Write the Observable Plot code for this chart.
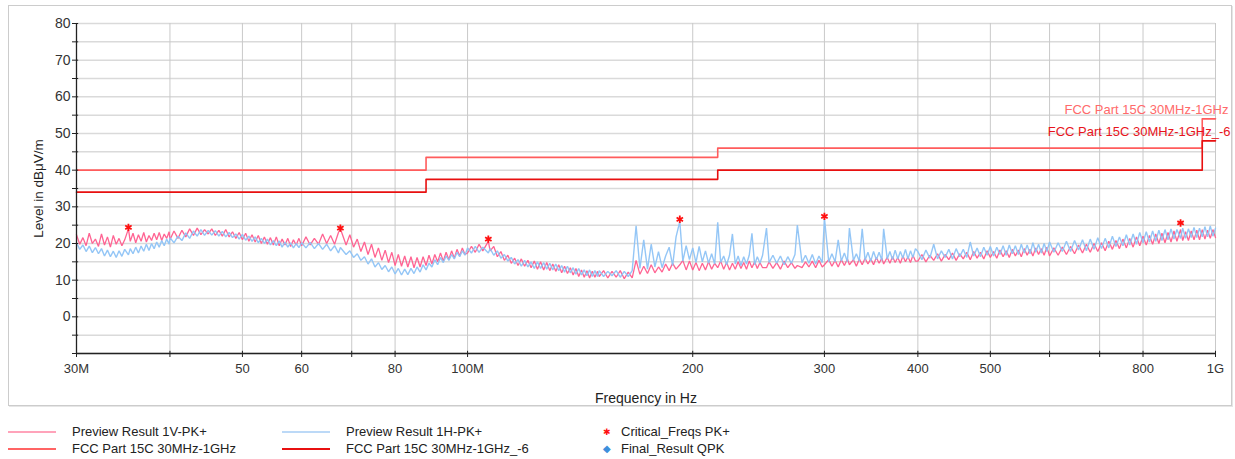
<!DOCTYPE html>
<html>
<head>
<meta charset="utf-8">
<script src="https://cdn.jsdelivr.net/npm/d3@7"></script>
<script src="https://cdn.jsdelivr.net/npm/@observablehq/plot@0.6"></script>
<style>
  html, body { margin: 0; padding: 0; background: #fff; }
  body { font-family: "Liberation Sans", Arial, sans-serif; }
  #wrap { position: relative; width: 1235px; height: 459px; overflow: hidden; }
  #frame { position: absolute; left: 8px; top: 5px; width: 1222px; height: 399px; border: 1px solid #cccccc; box-shadow: 1px 1px 0 #e6e6e6; }
  #chart { position: absolute; left: 0; top: 0; }
  .lg { position: absolute; font-size: 13px; color: #222; white-space: nowrap; line-height: 16px; }
  .sw { position: absolute; height: 2px; width: 48px; }
  .sym { position: absolute; line-height: 10px; }
</style>
</head>
<body>
<div id="wrap">
  <div id="frame"></div>
  <div id="chart"></div>
  <div class="sw" style="left:8px;top:431px;background:#ffa3ba"></div>
  <div class="lg" style="left:72px;top:424px">Preview Result 1V-PK+</div>
  <div class="sw" style="left:8px;top:448px;background:#ff6464"></div>
  <div class="lg" style="left:72px;top:441px">FCC Part 15C 30MHz-1GHz</div>
  <div class="sw" style="left:282px;top:431px;background:#bcd9f7"></div>
  <div class="lg" style="left:346px;top:424px">Preview Result 1H-PK+</div>
  <div class="sw" style="left:282px;top:448px;background:#e81010"></div>
  <div class="lg" style="left:346px;top:441px">FCC Part 15C 30MHz-1GHz_-6</div>
  <div class="sym" style="left:603px;top:427px;color:#ff1010;font-size:9px">✱</div>
  <div class="lg" style="left:621px;top:424px">Critical_Freqs PK+</div>
  <div class="sym" style="left:603px;top:444px;color:#3d8fdc;font-size:10px">◆</div>
  <div class="lg" style="left:621px;top:441px">Final_Result QPK</div>
</div>
<script>
// ---- data: frequency in MHz, level in dBµV/m ----
const freqMHz = [
30.0, 30.3, 30.6, 30.9, 31.2, 31.5, 31.8, 32.1, 32.4, 32.7,
33.0, 33.3, 33.6, 33.9, 34.2, 34.5, 34.8, 35.2, 35.4, 35.7,
36.0, 36.3, 36.6, 36.9, 37.2, 37.5, 37.8, 38.1, 38.4, 38.7,
39.0, 39.3, 39.6, 39.9,
40.0, 40.5, 41.0, 41.5, 42.0, 42.5, 43.0, 43.5, 44.0, 44.5,
45.0, 45.5, 46.0, 46.5, 47.0, 47.5, 48.0, 48.5, 49.0, 49.5,
50.0, 50.5, 51.0, 51.5, 52.0, 52.5, 53.0, 53.5, 54.0, 54.5,
55.0, 55.5, 56.0, 56.5, 57.0, 57.5, 58.0, 58.5, 59.0, 59.5,
60.0, 60.8, 61.6, 62.4, 63.2, 64.0, 64.8, 65.6, 66.4, 67.2,
67.6, 68.8, 69.6, 70.4, 71.2, 72.0, 72.8, 73.6, 74.4, 75.2,
76.0, 76.8, 77.6, 78.4, 79.2, 80.0, 80.8, 81.6, 82.4, 83.2,
84.0, 84.8, 85.6, 86.4, 87.2, 88.0, 88.8, 89.6, 90.4, 91.2,
92.0, 92.8, 93.6, 94.4, 95.2, 96.0, 96.8, 97.6, 98.4, 99.2,
100.0, 101.2, 102.4, 103.6, 104.8, 106.6, 107.2, 108.4, 109.6, 110.8,
112.0, 113.2, 114.4, 115.6, 116.8, 118.0, 119.2, 120.4, 121.6, 122.8,
124.0, 125.2, 126.4, 127.6, 128.8, 130.0, 131.2, 132.4, 133.6, 134.8,
136.0, 137.2, 138.4, 139.6, 140.8, 142.0, 143.2, 144.4, 145.6, 146.8,
148.0, 149.2,
150, 152, 154, 156, 158, 160, 162, 164, 166, 168,
170, 172, 174, 176, 178, 180, 182, 184, 186, 188,
190, 192.2, 194, 196, 198, 200, 202, 204, 206, 208,
210, 212, 214, 216, 218, 220, 222, 224, 226, 228,
230, 232, 234, 236, 238, 240, 242, 244, 246, 248,
251, 253, 256, 259, 262, 265, 268, 271, 274, 276,
280, 283, 286, 289, 292, 295, 298, 300, 304, 307,
310, 313, 316, 319, 322, 324, 328, 331, 334, 337,
340, 343, 346, 349, 352, 355, 358, 360, 364, 367,
370, 373, 376, 379, 382, 385, 388, 391, 394, 397,
400, 405, 410, 415, 420, 425, 430, 435, 440, 445,
450, 455, 460, 465, 470, 475, 480, 485, 490, 495,
500, 505, 510, 515, 520, 525, 530, 535, 540, 545,
550, 555, 560, 565, 570, 575, 580, 585, 590, 595,
600, 608, 616, 624, 632, 640, 648, 656, 664, 672,
680, 688, 696, 704, 712, 720, 728, 736, 744, 752,
760, 768, 776, 784, 792, 800, 808, 816, 824, 832,
840, 848, 856, 864, 872, 880, 888, 898, 904, 912,
920, 928, 936, 944, 952, 960, 968, 976, 984, 992, 1000
];
const preview1V = [
22.4, 19.8, 21.6, 19.4, 22.8, 20.0, 21.2, 19.2, 22.6, 19.6,
21.8, 19.0, 22.2, 19.8, 21.4, 19.4, 21.0, 24.0, 20.6, 22.8,
20.2, 22.4, 20.6, 23.0, 20.4, 22.2, 20.8, 22.8, 21.0, 23.0,
20.8, 22.6, 21.4, 23.2,
21.0, 23.4, 21.4, 23.6, 21.8, 24.0, 22.2, 24.2, 22.4, 23.8,
22.6, 24.0, 22.2, 23.6, 22.0, 23.8, 21.8, 23.2, 21.4, 23.0,
21.0, 22.8, 20.6, 22.4, 20.4, 22.2, 20.0, 21.8, 19.8, 21.6,
19.6, 21.8, 19.4, 21.2, 19.6, 21.4, 19.2, 21.0, 19.6, 21.4,
19.4, 21.8, 19.6, 21.4, 19.8, 22.6, 20.0, 22.2, 19.8, 23.0,
24.0, 19.6, 22.4, 19.0, 21.2, 17.8, 20.4, 17.0, 19.8, 16.2,
18.8, 15.4, 18.2, 14.8, 17.6, 14.0, 17.0, 13.8, 16.6, 13.6,
16.4, 13.4, 16.2, 13.6, 16.4, 14.0, 16.8, 14.4, 17.0, 15.0,
17.4, 15.2, 17.6, 15.6, 18.0, 16.0, 18.4, 16.6, 18.8, 17.0,
17.4, 19.2, 17.6, 19.8, 18.0, 20.6, 18.0, 19.2, 16.4, 17.8,
15.4, 16.8, 14.6, 16.0, 14.0, 15.8, 13.8, 15.4, 13.4, 15.2,
13.0, 15.0, 12.8, 14.8, 12.6, 14.4, 12.4, 14.2, 12.0, 13.8,
11.8, 13.4, 11.4, 13.2, 11.0, 12.8, 10.8, 12.6, 10.6, 12.4,
10.8, 12.4,
11.0, 12.6, 10.6, 12.4, 10.8, 12.6, 10.4, 12.2, 10.6, 15.4,
11.6, 13.8, 11.8, 14.2, 12.0, 13.6, 12.2, 14.4, 12.6, 14.6,
13.0, 14.2, 15.4, 12.8, 15.2, 12.8, 14.8, 12.6, 14.6, 12.8,
15.0, 13.0, 14.6, 13.4, 15.2, 13.0, 14.8, 12.8, 14.6, 13.0,
15.0, 13.2, 14.8, 13.0, 15.2, 13.4, 15.0, 13.2, 14.8, 13.4,
13.4, 15.0, 13.2, 14.8, 13.0, 15.2, 13.4, 14.8, 13.2, 14.0,
13.4, 15.0, 13.6, 15.2, 13.4, 15.4, 13.6, 14.2, 15.6, 13.8,
15.4, 13.6, 15.6, 14.0, 15.8, 14.2, 15.6, 13.8, 15.8, 14.2,
16.0, 14.4, 15.8, 14.2, 16.2, 14.6, 16.0, 14.4, 16.2, 14.6,
16.4, 14.8, 16.2, 14.6, 16.6, 15.0, 16.4, 14.8, 16.8, 15.2,
15.2, 17.0, 15.0, 16.8, 15.4, 17.2, 15.2, 17.0, 15.6, 17.4,
15.4, 17.2, 15.8, 17.6, 15.6, 17.8, 16.0, 17.6, 15.8, 18.0,
16.2, 17.8, 16.0, 18.2, 16.4, 18.0, 16.2, 18.4, 16.6, 18.2,
16.4, 18.6, 16.8, 18.4, 16.6, 18.8, 17.0, 18.6, 16.8, 19.0,
16.6, 18.8, 16.8, 19.0, 17.0, 19.2, 17.2, 19.6, 17.4, 19.8,
17.6, 20.0, 17.8, 20.2, 18.0, 20.6, 18.4, 20.8, 18.6, 21.2,
18.8, 21.4, 19.0, 21.8, 19.4, 22.0, 19.6, 22.2, 19.8, 22.6,
20.0, 22.8, 20.2, 23.0, 20.4, 23.4, 20.6, 23.8, 20.8, 23.2,
20.8, 23.4, 21.0, 23.6, 21.0, 23.8, 21.2, 23.6, 21.4, 23.8, 21.6
];
const preview1H = [
20.2, 18.4, 19.6, 17.8, 19.3, 17.5, 18.9, 17.2, 18.6, 16.6,
18.2, 16.4, 17.9, 16.2, 18.0, 16.5, 18.4, 16.9, 18.6, 17.2,
19.0, 17.4, 19.3, 17.9, 19.8, 18.1, 20.0, 18.6, 20.4, 19.0,
20.8, 19.4, 21.2, 19.8,
21.6, 20.2, 22.0, 20.8, 22.9, 21.4, 23.4, 22.0, 23.8, 22.2,
23.6, 22.3, 23.5, 22.0, 23.3, 21.8, 23.0, 21.6, 22.6, 21.2,
22.5, 20.9, 22.0, 20.6, 21.8, 20.2, 21.4, 20.0, 21.2, 19.6,
20.8, 19.4, 20.7, 19.0, 20.4, 19.0, 20.2, 18.8, 20.0, 18.9,
20.2, 18.8, 20.3, 18.6, 20.0, 18.4, 19.8, 18.0, 19.4, 17.4,
18.9, 17.0, 18.0, 16.2, 17.2, 15.4, 16.4, 14.4, 15.8, 13.6,
14.8, 12.9, 14.0, 12.3, 13.6, 11.7, 13.2, 11.4, 13.0, 11.5,
13.2, 11.8, 13.6, 12.2, 14.2, 12.8, 14.6, 13.6, 15.6, 14.2,
16.2, 14.8, 16.6, 15.4, 17.0, 15.8, 17.6, 16.4, 18.0, 16.8,
18.8, 17.4, 19.2, 17.6, 19.0, 17.4, 18.6, 16.8, 18.0, 16.0,
17.0, 15.2, 16.2, 14.4, 15.6, 13.8, 15.4, 13.6, 15.0, 13.2,
15.0, 13.2, 14.8, 13.0, 14.6, 12.8, 14.4, 12.6, 14.0, 12.2,
13.8, 12.0, 13.4, 11.6, 13.2, 11.4, 12.8, 11.2, 12.8, 11.0,
12.6, 11.0,
12.6, 11.0, 12.4, 11.2, 12.6, 10.8, 12.4, 11.0, 12.6, 24.8,
13.2, 21.0, 13.0, 19.8, 13.6, 17.8, 13.4, 16.6, 19.0, 14.0,
21.8, 26.0, 15.2, 19.4, 15.6, 18.8, 14.8, 19.2, 15.0, 18.0,
14.6, 17.2, 14.4, 25.8, 14.8, 16.6, 14.2, 16.8, 22.6, 14.4,
16.6, 14.0, 16.4, 14.4, 16.8, 22.8, 14.2, 16.4, 14.6, 16.8,
24.2, 14.8, 16.8, 14.6, 16.6, 14.2, 16.4, 14.6, 17.0, 25.0,
14.8, 16.8, 14.6, 17.0, 14.4, 16.6, 14.8, 27.0, 15.0, 17.2,
15.0, 21.0, 15.2, 17.4, 15.0, 24.2, 15.4, 17.2, 15.2, 24.0,
15.4, 17.6, 15.2, 17.8, 15.6, 17.6, 15.4, 24.0, 15.8, 17.8,
15.6, 18.2, 15.8, 17.8, 16.0, 18.4, 15.8, 18.0, 16.2, 18.6,
17.8, 15.6, 18.2, 16.0, 19.8, 15.8, 18.0, 16.2, 18.4, 15.8,
18.6, 16.4, 18.4, 16.2, 20.4, 16.6, 18.8, 16.4, 19.0, 16.8,
19.2, 16.6, 19.0, 17.0, 19.4, 16.8, 19.6, 17.2, 19.4, 17.0,
19.8, 17.4, 19.6, 17.2, 20.2, 17.6, 19.8, 17.4, 20.0, 17.8,
20.4, 17.6, 20.2, 17.8, 20.6, 17.8, 20.8, 18.2, 21.0, 18.0,
21.2, 18.4, 21.6, 18.6, 21.4, 18.8, 22.0, 19.2, 21.8, 19.4,
22.4, 19.6, 22.6, 19.8, 23.0, 20.2, 23.2, 20.4, 23.4, 20.6,
23.6, 20.8, 23.8, 21.0, 24.0, 21.2, 23.8, 21.4, 24.2, 21.4,
24.0, 21.6, 24.4, 21.6, 24.2, 21.8, 24.6, 21.8, 24.8, 22.0, 24.2
];
const limitFreq = [30, 88, 216, 960, 1000];
const limitFCC = [40, 43.5, 46, 54, 54];
const limitFCC6 = [34, 37.5, 40, 48, 48];
const criticalFreq = [35.2, 67.6, 106.6, 192.2, 300.0, 898.0];
const criticalLevel = [24.4, 24.2, 21.2, 26.6, 27.4, 25.6];
const xTicks = [30, 40, 50, 60, 70, 80, 100, 200, 300, 400, 500, 600, 700, 800, 1000];
const xTickLabels = ["30M", "", "50", "60", "", "80", "100M", "200", "300", "400", "500", "", "", "800", "1G"];
const yTicks = [-10, -5, 0, 5, 10, 15, 20, 25, 30, 35, 40, 45, 50, 55, 60, 65, 70, 75, 80];
const yTickLabels = ["", "", "0", "", "10", "", "20", "", "30", "", "40", "", "50", "", "60", "", "70", "", "80"];

const rows = (xs, ys) => xs.map((f, i) => ({f, v: ys[i]}));
const s1V = rows(freqMHz, preview1V);
const s1H = rows(freqMHz, preview1H);
const lim1 = rows(limitFreq, limitFCC);
const lim2 = rows(limitFreq, limitFCC6);
const crit = rows(criticalFreq, criticalLevel);
const xLab = new Map(xTicks.map((t, i) => [t, xTickLabels[i]]));
const yLab = new Map(yTicks.map((t, i) => [t, yTickLabels[i]]));

const chart = Plot.plot({
  width: 1235,
  height: 412,
  marginLeft: 76,
  marginRight: 20,
  marginTop: 23,
  marginBottom: 59,
  style: {fontFamily: '"Liberation Sans", Arial, sans-serif', fontSize: "13px", color: "#222", background: "transparent", overflow: "visible"},
  x: {type: "log", domain: [30, 1000]},
  y: {domain: [-10, 80]},
  marks: [
    Plot.gridY(yTicks, {stroke: "#dadada", strokeOpacity: 1, strokeWidth: 1.5}),
    Plot.gridX(xTicks, {stroke: "#c9c9c9", strokeOpacity: 1, strokeWidth: 1}),
    Plot.line(lim1, {x: "f", y: "v", curve: "step-after", stroke: "#ff5c5c", strokeWidth: 1.6}),
    Plot.line(lim2, {x: "f", y: "v", curve: "step-after", stroke: "#e81010", strokeWidth: 1.6}),
    Plot.line(s1V, {x: "f", y: "v", stroke: "#ff5c8d", strokeWidth: 1.3, strokeOpacity: 0.95, strokeLinejoin: "miter"}),
    Plot.line(s1H, {x: "f", y: "v", stroke: "#8ec3f5", strokeWidth: 1.4, strokeOpacity: 0.95, strokeLinejoin: "miter"}),
    Plot.dot(crit, {x: "f", y: "v", symbol: "asterisk", r: 3.5, stroke: "#ff1010", strokeWidth: 1.8}),
    Plot.text([lim1[lim1.length - 1]], {x: "f", y: "v", text: () => "FCC Part 15C 30MHz-1GHz", textAnchor: "end", dx: 13, dy: -9, fill: "#ff6a6a", fontSize: 13}),
    Plot.text([lim2[lim2.length - 1]], {x: "f", y: "v", text: () => "FCC Part 15C 30MHz-1GHz_-6", textAnchor: "end", dx: 15, dy: -9, fill: "#e8141c", fontSize: 13}),
    Plot.ruleX([30], {stroke: "#222", strokeWidth: 1.3}),
    Plot.ruleY([-10], {stroke: "#222", strokeWidth: 1.3}),
    Plot.ruleX(xTicks, {y1: -10, y2: -9.4, stroke: "#222"}),
    Plot.ruleY(yTicks, {x1: 30, x2: 30.2, stroke: "#222"}),
    Plot.axisY(yTicks, {tickSize: 4, tickPadding: 2, tickFormat: d => yLab.get(d), label: null, fontSize: 14, color: "#333", stroke: "#222"}),
    Plot.axisX(xTicks, {tickSize: 4, tickPadding: 6, tickFormat: d => xLab.get(d), label: null, fontSize: 13, color: "#333", stroke: "#222"}),
    Plot.text(["Frequency in Hz"], {frameAnchor: "bottom", lineAnchor: "middle", textAnchor: "middle", dy: 45, fontSize: 14, fill: "#222"}),
    Plot.text(["Level in dBμV/m"], {frameAnchor: "left", textAnchor: "middle", lineAnchor: "middle", dx: -38, rotate: -90, fontSize: 13.5, fill: "#222"})
  ]
});
document.getElementById("chart").appendChild(chart);
</script>
</body>
</html>
